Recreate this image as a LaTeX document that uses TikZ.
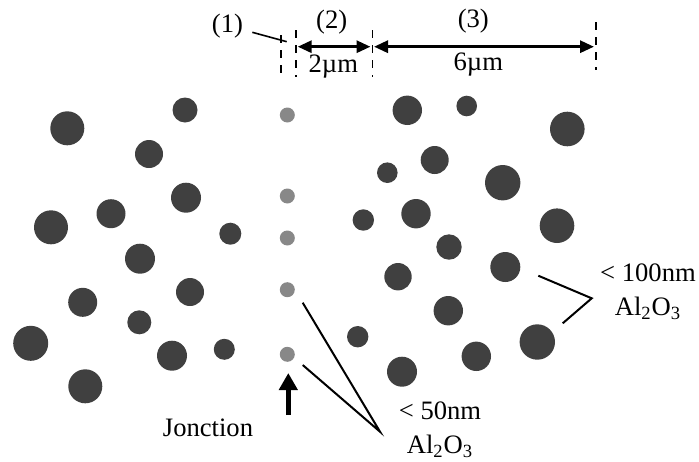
\documentclass[tikz,border=0pt]{standalone}
\usepackage{fontspec}
\setmainfont{Liberation Serif}
\usetikzlibrary{arrows.meta}
\definecolor{partdark}{HTML}{404040}
\definecolor{partgrey}{HTML}{888888}

\begin{document}
\begin{tikzpicture}[x=0.5pt, y=-0.5pt,
    big/.style={circle, fill=partdark, inner sep=0pt, minimum size=#1pt},
    small/.style={circle, fill=partgrey, inner sep=0pt, minimum size=7.5pt},
    lbl/.style={font=\fontsize{13.3}{17}\selectfont, align=center, inner sep=0pt},
    bound/.style={dash pattern=on 4pt off 3.5pt, line width=0.8pt},
    dim/.style={{Triangle[length=7pt,width=6pt]}-{Triangle[length=7pt,width=6pt]}, line width=1.5pt},
    lead/.style={line width=1pt}
]
\useasboundingbox (0,0) rectangle (699,461);

% Al2O3 < 100nm, left side
\foreach \x/\y/\r [count=\i] in {67.3/128.3/17, 185/110/12.5, 149/154/14, 186/197.7/15,
    111/213.7/14.5, 51/227.3/17, 230.3/233.7/11, 140/258.7/15, 82.7/302.3/14.5,
    190/292/14, 139.3/322.3/12, 30.7/343.3/17.5, 172/355.7/15, 224.3/349.3/10.5, 85.3/386.3/17}
  \node[big=\r] (l\i) at (\x,\y) {};

% Al2O3 < 100nm, right side
\foreach \x/\y/\r [count=\i] in {407.3/110.3/14.7, 466.7/106/10.3, 567.3/129/17.3, 434.7/160/14,
    387.3/172.7/10.3, 502.7/182.7/17.7, 363.3/220/10.7, 416/213.7/14.7, 557/225.7/17.3,
    449/247/12.7, 505.3/267/15, 398/276.7/13.7, 448.3/310.7/14.7, 357.7/336.7/10.7,
    537.3/342/17.7, 476.3/356.3/14.7, 402/371.7/15}
  \node[big=\r] (r\i) at (\x,\y) {};

% Al2O3 < 50nm along the junction
\foreach \y [count=\i] in {115, 196, 238, 289.7, 354.3}
  \node[small] (g\i) at (287.3,\y) {};

% zones
\draw[bound] (280.7,35) -- (280.7,77);
\draw[bound] (295.7,30) -- (295.7,77);
\draw[bound] (372.3,30) -- (372.3,77);
\draw[bound] (595.7,22) -- (595.7,70);
\coordinate (z2a) at (297.7,46.7);
\coordinate (z2b) at (370.5,46.7);
\coordinate (z3a) at (374,46.7);
\coordinate (z3b) at (594,46.7);
\draw[dim] (z2a) -- (z2b);
\draw[dim] (z3a) -- (z3b);

\node[lbl] (one) at (227.5,26) {(1)};
\node[lbl] (two) at (331.7,22) {(2)};
\node[lbl] (three) at (473.3,21) {(3)};
\node[lbl] (twomu) at (333.3,67) {2µm};
\node[lbl] (sixmu) at (478.3,65) {6µm};
\coordinate (t1a) at (252.3,32.3);
\coordinate (t1b) at (286.7,41.7);
\draw[line width=0.8pt] (t1a) -- (t1b);

% junction
\node[lbl] (jonc) at (208,428) {Jonction};
\coordinate (ja) at (288.3,415);
\coordinate (jb) at (288.3,373);
\draw[-{Triangle[length=8.5pt,width=9pt]}, line width=2.5pt] (ja) -- (jb);

\node[lbl] (fine) at (440,430) {< 50nm\\Al\textsubscript{2}O\textsubscript{3}};
\coordinate (fa) at (302.7,302.7);
\coordinate (fb) at (302.7,365);
\coordinate (ftip) at (380,431.7);
\draw[lead] (fa) -- (ftip) -- (fb);

\node[lbl] (coarse) at (648,292) {< 100nm\\Al\textsubscript{2}O\textsubscript{3}};
\coordinate (ca) at (538.3,275.7);
\coordinate (cb) at (562.7,323.3);
\coordinate (ctip) at (591.7,298.3);
\draw[lead] (ca) -- (ctip) -- (cb);
\end{tikzpicture}
\end{document}
